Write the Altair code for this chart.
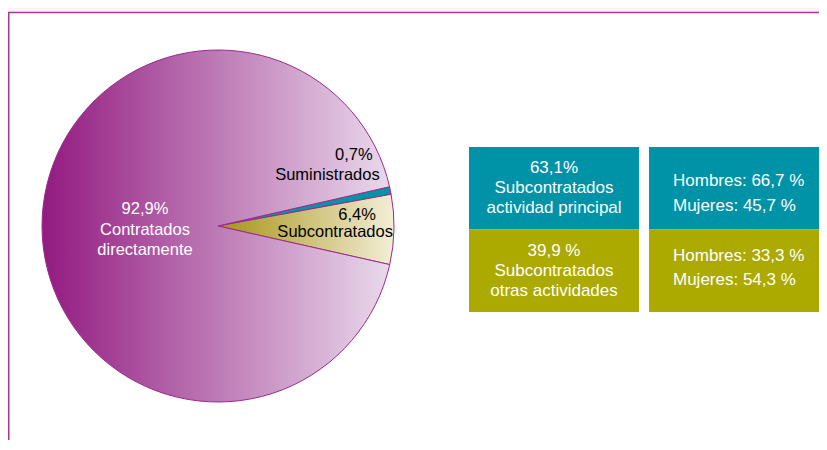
import math
import altair as alt
import pandas as pd

# ---------------- data ----------------
categories = ["Suministrados", "Subcontratados", "Contratados directamente"]
values = [0.7, 6.4, 92.9]
label_names = ["Suministrados", "Subcontratados", "Contratados\ndirectamente"]

box_groups = ["actividad principal", "otras actividades"]
box_pct = [63.1, 39.9]
box_pct_sep = ["", " "]
hombres = [66.7, 33.3]
mujeres = [45.7, 54.3]


def fmt(v):
    return f"{v:.1f}".replace(".", ",")


# ---------------- tables ----------------
starts, ends, mids = [], [], []
acc = 0.0
for v in values:
    starts.append(acc)
    mids.append(acc + v / 2)
    acc += v
    ends.append(acc)

pie = pd.DataFrame({
    "cat": categories,
    "value": values,
    "start": starts,
    "end": ends,
    "mid": mids,
    "pct": [fmt(v) + "%" for v in values],
    "name": label_names,
})
pie["label"] = pie["pct"] + "\n" + pie["name"]

rows = []
for g, p, s, h, m in zip(box_groups, box_pct, box_pct_sep, hombres, mujeres):
    rows.append({"row": g, "col": "pct",
                 "text": f"{fmt(p)}{s}%\nSubcontratados\n{g}"})
    rows.append({"row": g, "col": "sexo",
                 "text": f"Hombres: {fmt(h)} %\nMujeres: {fmt(m)} %"})
boxes = pd.DataFrame(rows)

# ---------------- styling / layout ----------------
W, H = 811, 432
CX, CY, R = 210, 218, 176
A0 = math.radians(77.1)
FONT = "Liberation Sans"
PURPLE_LINE = "#9c2a8c"

theta_scale = alt.Scale(domain=[0, 100], range=[A0, A0 + 2 * math.pi])

purple_grad = alt.LinearGradient(
    gradient="linear", x1=0, x2=1, y1=0, y2=0,
    stops=[alt.GradientStop(offset=0, color="#921a80"),
           alt.GradientStop(offset=1, color="#e9d9eb")])
olive_grad = alt.LinearGradient(
    gradient="linear", x1=0, x2=1, y1=0, y2=0,
    stops=[alt.GradientStop(offset=0, color="#a69313"),
           alt.GradientStop(offset=1, color="#f3eed8")])
fills = {
    "Suministrados": "#0094a6",
    "Subcontratados": olive_grad,
    "Contratados directamente": purple_grad,
}

base = alt.Chart(pie)

frame = alt.Chart(pd.DataFrame({"a": [0]})).mark_rect(
    fill="white", stroke="#a2399a", strokeWidth=1.5
).encode(x=alt.value(0.75), x2=alt.value(2000), y=alt.value(4.5), y2=alt.value(2000))

arcs = []
for c in categories:
    arcs.append(
        base.transform_filter(alt.datum.cat == c).mark_arc(
            outerRadius=R, fill=fills[c], stroke=PURPLE_LINE, strokeWidth=1
        ).encode(
            theta=alt.Theta("start:Q", scale=theta_scale, stack=False),
            theta2="end:Q",
            x=alt.value(CX), y=alt.value(CY),
        )
    )


def pie_text(cat, field, radius, dx, dy, align, color, size, lh=20):
    return base.transform_filter(alt.datum.cat == cat).mark_text(
        radius=radius, dx=dx, dy=dy, align=align, baseline="middle",
        color=color, fontSize=size, font=FONT, lineBreak="\n", lineHeight=lh,
    ).encode(
        theta=alt.Theta("mid:Q", scale=theta_scale, stack=False),
        text=alt.Text(f"{field}:N"),
        x=alt.value(CX), y=alt.value(CY),
    )


texts = [
    pie_text("Contratados directamente", "label", 73, 0, -17, "center", "white", 16.5, 20.5),
    pie_text("Suministrados", "pct", 160, -2, -39, "right", "black", 16.5),
    pie_text("Suministrados", "name", 160, 5, -19, "right", "black", 16.5),
    pie_text("Subcontratados", "pct", 160, -2, -14, "right", "black", 16.5),
    pie_text("Subcontratados", "name", 160, 15, 3, "right", "black", 16.5),
]

xs = alt.X("col:N", axis=None,
           scale=alt.Scale(domain=["pct", "sexo"], range=[461, 811],
                           paddingInner=0.0556, paddingOuter=0))
ys = alt.Y("row:N", axis=None,
           scale=alt.Scale(domain=box_groups, range=[139, 304],
                           paddingInner=0, paddingOuter=0))

bx = alt.Chart(boxes)
rects = bx.mark_rect().encode(
    x=xs, y=ys,
    fill=alt.Fill("row:N", legend=None,
                  scale=alt.Scale(domain=box_groups, range=["#0093a7", "#aca900"])),
)
left_txt = bx.transform_filter(alt.datum.col == "pct").mark_text(
    color="white", fontSize=17, font=FONT, lineBreak="\n", lineHeight=20,
    align="center", baseline="middle", dy=-20,
).encode(x=xs, y=ys, text="text:N")

right_txts = []
for g, dy in zip(box_groups, [-7, -15]):
    right_txts.append(
        bx.transform_filter((alt.datum.col == "sexo") & (alt.datum.row == g)).mark_text(
            color="white", fontSize=17, font=FONT, lineBreak="\n", lineHeight=24.5,
            align="left", baseline="middle", dx=-61, dy=dy,
        ).encode(x=xs, y=ys, text="text:N")
    )

chart = alt.layer(frame, *arcs, *texts, rects, left_txt, *right_txts).properties(
    width=W, height=H,
    autosize=alt.AutoSizeParams(type="none"),
    padding=0,
    background="#f8f2f7",
).configure_view(strokeWidth=0)

chart.save("out.html", embed_options={"renderer": "svg", "actions": False})
